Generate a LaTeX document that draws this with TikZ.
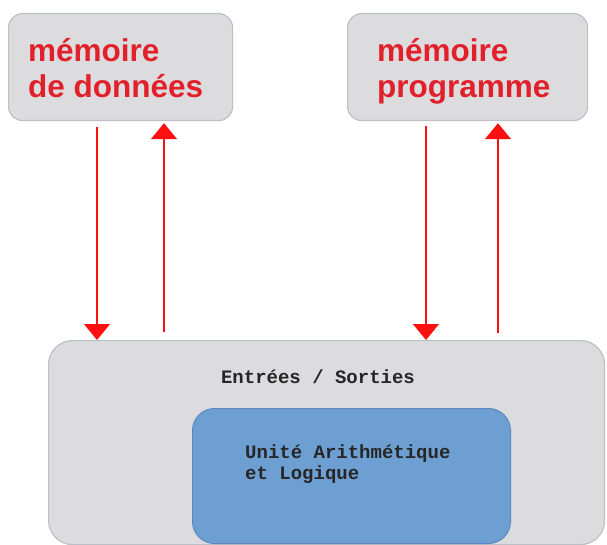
\documentclass[tikz,border=0pt]{standalone}
\usepackage{fontspec}
\setmainfont{Liberation Sans}
\newfontfamily\monob{Liberation Mono}
\usetikzlibrary{arrows.meta}
\definecolor{boxgray}{HTML}{DCDCDE}
\definecolor{boxedge}{HTML}{BCC0C6}
\definecolor{alublue}{HTML}{6E9FD2}
\definecolor{aluedge}{HTML}{5D88BE}
\definecolor{memred}{HTML}{E1202B}
\definecolor{arrred}{HTML}{FF1010}
\tikzset{
  membox/.style={draw=boxedge, fill=boxgray, line width=1.2pt, rounded corners=14pt,
    minimum width=224pt, minimum height=107pt, anchor=north west, inner sep=0pt},
  memtext/.style={text=memred, font=\fontsize{31.5}{36}\selectfont\bfseries, align=left, anchor=base west, inner sep=0pt},
  iobox/.style={draw=boxedge, fill=boxgray, line width=1.2pt, rounded corners=24pt,
    minimum width=556pt, minimum height=204pt, anchor=north west, inner sep=0pt},
  alubox/.style={draw=aluedge, fill=alublue, line width=1pt, rounded corners=22pt,
    minimum width=318pt, minimum height=135pt, anchor=north west, inner sep=0pt},
  monotext/.style={text=black!85, font=\monob\fontsize{19}{21}\selectfont\bfseries, align=left, inner sep=0pt},
  flow/.style={draw=arrred, line width=1.3pt, -{Triangle[width=26pt,length=16pt]}}
}
\begin{document}
\begin{tikzpicture}[x=1pt,y=-1pt]
\useasboundingbox (0,0) rectangle (607,545);
% boxes
\node[membox] (dm) at (8,13) {};
\node[membox, minimum width=240pt] (pm) at (347,13) {};
\node[iobox] (io) at (48,340) {};
\node[alubox] (alu) at (192,408) {};
% texts
\node[memtext] (dmt1) at (28,62) {mémoire};
\node[memtext] (dmt2) at (28,98) {de données};
\node[memtext] (pmt1) at (377,62) {mémoire};
\node[memtext] (pmt2) at (377,98) {programme};
\node[monotext, anchor=base] (iot) at (318,383) {Entrées / Sorties};
\node[monotext, anchor=base west] (alut1) at (245,458) {Unité Arithmétique};
\node[monotext, anchor=base west] (alut2) at (245,479) {et Logique};
% connectors
\draw[flow] ([xshift=89pt,yshift=-6pt]dm.south west) -- ([xshift=49pt]io.north west);
\draw[flow] ([xshift=116pt,yshift=8pt]io.north west) -- ([xshift=156pt,yshift=-2pt]dm.south west);
\draw[flow] ([xshift=79pt,yshift=-5pt]pm.south west) -- ([xshift=378pt]io.north west);
\draw[flow] ([xshift=450pt,yshift=7pt]io.north west) -- ([xshift=151pt,yshift=-2pt]pm.south west);
\end{tikzpicture}
\end{document}
